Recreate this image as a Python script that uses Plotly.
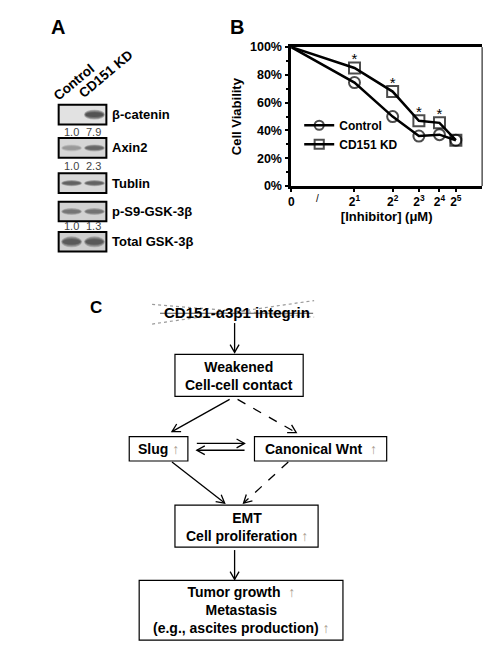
import plotly.graph_objects as go

W, H = 500, 651
FONT = "Liberation Sans, Arial, sans-serif"
ARROW_UP = '<span style="color:#a89a8e;font-weight:normal">↑</span>'

# ---- panel B data ----
dose_labels = ["0", "2<sup>1</sup>", "2<sup>2</sup>", "2<sup>3</sup>", "2<sup>4</sup>", "2<sup>5</sup>"]
dose_pos = [0, 2.12, 3.4, 4.28, 4.97, 5.52]   # where each dose sits on the drawn axis
control_viab = [1.00, 0.745, 0.50, 0.36, 0.37, 0.33]
kd_viab = [1.00, 0.85, 0.68, 0.47, 0.455, 0.33]
signif = ["", "*", "*", "*", "*", ""]

# ---- panel A data ----
lanes = ["Control", "CD151 KD"]
blot_names = ["β-catenin", "Axin2", "Tublin", "p-S9-GSK-3β", "Total GSK-3β"]
band_density = [[0.0, 1.0], [0.35, 0.75], [0.8, 0.8], [0.6, 0.62], [0.85, 0.85]]
bcat_quant = ["1.0", "7.9"]
axin2_quant = ["1.0", "2.3"]
pgsk_quant = ["1.0", "1.3"]


def px(x):
    return x / W


def py(y):
    return 1 - y / H


fig = go.Figure()

# cell viability curves
fig.add_trace(go.Scatter(
    x=dose_pos, y=control_viab, name="Control", mode="lines+markers",
    line=dict(color="black", width=2.5),
    marker=dict(symbol="circle-open", size=[0, 11, 11, 11, 11, 11], color="black",
                line=dict(width=2, color="black")),
))
fig.add_trace(go.Scatter(
    x=dose_pos, y=kd_viab, name="CD151 KD", mode="lines+markers",
    line=dict(color="black", width=2.5),
    marker=dict(symbol="square-open", size=[0, 11, 11, 11, 11, 11], color="black",
                line=dict(width=2, color="black")),
))
fig.add_trace(go.Scatter(
    x=dose_pos, y=kd_viab, mode="text", text=signif, textposition="top center",
    textfont=dict(size=15, color="black", family=FONT), showlegend=False, hoverinfo="skip",
))

fig.update_xaxes(
    domain=[px(290), px(482)], range=[0, 6.4],
    tickvals=dose_pos, ticktext=dose_labels,
    tickfont=dict(size=12, family=FONT, color="black", weight="bold"),
    ticks="outside", ticklen=3, tickwidth=1.5, tickcolor="black",
    showline=True, linewidth=2.5, linecolor="black", mirror=True,
    showgrid=False, zeroline=False,
    title=dict(text="[Inhibitor] (μM)", font=dict(size=13, family=FONT, color="black", weight="bold"),
               standoff=3),
)
fig.update_yaxes(
    domain=[py(183), py(41)], range=[0, 1.0],
    tickvals=[0, 0.2, 0.4, 0.6, 0.8, 1.0], tickformat=".0%",
    tickfont=dict(size=12.5, family=FONT, color="black", weight="bold"),
    ticks="outside", ticklen=4, tickwidth=1.5, tickcolor="black",
    minor=dict(tickvals=[0.1, 0.3, 0.5, 0.7, 0.9], ticks="outside", ticklen=3, tickcolor="black"),
    showline=True, linewidth=2.5, linecolor="black",
    showgrid=False, zeroline=False,
    title=dict(text="Cell Viability", font=dict(size=13, family=FONT, color="black", weight="bold"),
               standoff=6),
)

shapes = []
annotations = []

# thin right border of the plot box
shapes.append(dict(type="line", xref="paper", yref="paper", x0=px(482), x1=px(482), y0=py(41), y1=py(183),
                   line=dict(color="black", width=1)))
# axis break mark
annotations.append(dict(xref="paper", yref="paper", x=px(316), y=py(188), text="/", showarrow=False,
                        font=dict(size=10, family=FONT, color="black")))


def label(x, y, text, size=13, anchor="center", color="black", angle=0):
    annotations.append(dict(xref="paper", yref="paper", x=px(x), y=py(y), text=text, showarrow=False,
                            xanchor=anchor, yanchor="middle", textangle=angle,
                            font=dict(size=size, family=FONT, color=color)))


# panel letters
label(55, 20, "<b>A</b>", size=20)
label(235, 20, "<b>B</b>", size=20)
label(94, 307, "<b>C</b>", size=17)

# ---- western blot ----
label(71, 77, "<b>%s</b>" % lanes[0], size=13.5, angle=-40)
label(104, 68, "<b>%s</b>" % lanes[1], size=13.5, angle=-40)

row_y = [110, 144, 180, 209, 240]
band_h = [9, 6, 5, 6, 10]
box_bg = ["#e2e2e2", "#d6d6d6", "#d8d8d8", "#d2d2d2", "#cfcfcf"]
lane_x = [69, 92]
for i, name in enumerate(blot_names):
    yc = row_y[i]
    shapes.append(dict(type="rect", xref="paper", yref="paper", x0=px(56), x1=px(104),
                       y0=py(yc - 10), y1=py(yc + 10), fillcolor=box_bg[i], line=dict(width=0),
                       layer="above"))
    for j, d in enumerate(band_density[i]):
        if d <= 0:
            continue
        for k, s in enumerate([1.0, 0.8, 0.6, 0.4]):
            hw = 10.5 * (0.75 + 0.25 * s)
            hh = band_h[i] / 2 * s + 0.6
            shapes.append(dict(type="circle", xref="paper", yref="paper",
                               x0=px(lane_x[j] - hw), x1=px(lane_x[j] + hw),
                               y0=py(yc - hh), y1=py(yc + hh),
                               fillcolor="black", opacity=0.22 * d, line=dict(width=0),
                               layer="above"))
    shapes.append(dict(type="rect", xref="paper", yref="paper", x0=px(56), x1=px(104),
                       y0=py(yc - 10), y1=py(yc + 10), line=dict(color="black", width=2),
                       layer="above"))
    label(108, yc, "<b>%s</b>" % name, size=13, anchor="left")

for yq, vals in [(128, bcat_quant), (162, axin2_quant), (224, pgsk_quant)]:
    for j, v in enumerate(vals):
        label([69, 91][j], yq, v, size=11, color="#444")

# ---- pathway diagram ----
def box(x0, y0, x1, y1):
    shapes.append(dict(type="rect", xref="paper", yref="paper", x0=px(x0), x1=px(x1),
                       y0=py(y0), y1=py(y1), line=dict(color="black", width=1.2)))


def arrow(x0, y0, x1, y1, dash="solid"):
    shapes.append(dict(type="line", xref="paper", yref="paper", x0=px(x0), y0=py(y0),
                       x1=px(x1), y1=py(y1), line=dict(color="black", width=1.3, dash=dash)))
    dx, dy = x1 - x0, y1 - y0
    n = (dx * dx + dy * dy) ** 0.5
    ux, uy = dx / n, dy / n
    L, w = 8, 4.5
    ax, ay = x1 - L * ux - w * uy, y1 - L * uy + w * ux
    bx, by = x1 - L * ux + w * uy, y1 - L * uy - w * ux
    shapes.append(dict(type="path", xref="paper", yref="paper",
                       path="M%.5f,%.5f L%.5f,%.5f L%.5f,%.5f" % (px(ax), py(ay), px(x1), py(y1), px(bx), py(by)),
                       line=dict(color="black", width=1.3)))


label(235, 312, "<b>CD151-α3β1 integrin</b>", size=15)
shapes.append(dict(type="line", xref="paper", yref="paper", x0=px(158), x1=px(312), y0=py(313), y1=py(313),
                   line=dict(color="#555", width=1)))
shapes.append(dict(type="line", xref="paper", yref="paper", x0=px(150), x1=px(313), y0=py(304), y1=py(317),
                   line=dict(color="#9a9a9a", width=1.2, dash="dot")))
shapes.append(dict(type="line", xref="paper", yref="paper", x0=px(150), x1=px(313), y0=py(324), y1=py(300),
                   line=dict(color="#9a9a9a", width=1.2, dash="dot")))

box(173, 355, 302, 398)
label(237.5, 377, "<b>Weakened<br>Cell-cell contact</b>", size=14)
box(127, 439, 186, 464)
label(156.5, 452, "<b>Slug </b>" + ARROW_UP, size=14)
box(253, 439, 386, 464)
label(319.5, 452, "<b>Canonical Wnt  </b>" + ARROW_UP, size=14)
box(173, 509, 317, 552)
label(245, 531, "<b>EMT<br>Cell proliferation </b>" + ARROW_UP, size=14)
box(137, 586, 342, 647)
label(239.5, 616.5, "<b>Tumor growth  </b>" + ARROW_UP + "<br><b>Metastasis</b><br><b>(e.g., ascites production) </b>" + ARROW_UP, size=14)

arrow(233, 323, 233, 353)
arrow(228, 401, 170, 434)
arrow(236, 401, 295, 435, dash="dash")
arrow(195, 446, 243, 446)
arrow(243, 453, 195, 453)
arrow(170, 465, 223, 507)
arrow(287, 465, 242, 507, dash="dash")
arrow(233, 555, 233, 585)

fig.update_layout(
    width=W, height=H, margin=dict(l=0, r=0, t=0, b=0),
    paper_bgcolor="white", plot_bgcolor="white",
    shapes=shapes, annotations=annotations,
    showlegend=True,
    legend=dict(x=px(298), y=py(106), xanchor="left", yanchor="top", bgcolor="rgba(0,0,0,0)",
                font=dict(size=12, family=FONT, color="black", weight="bold"),
                itemwidth=30, tracegroupgap=0),
)

# the page body has a default 8px margin; drop it so the figure fills the window
fig.write_html("out.html", config={"displayModeBar": False},
               post_script="document.body.style.margin='0px';")
